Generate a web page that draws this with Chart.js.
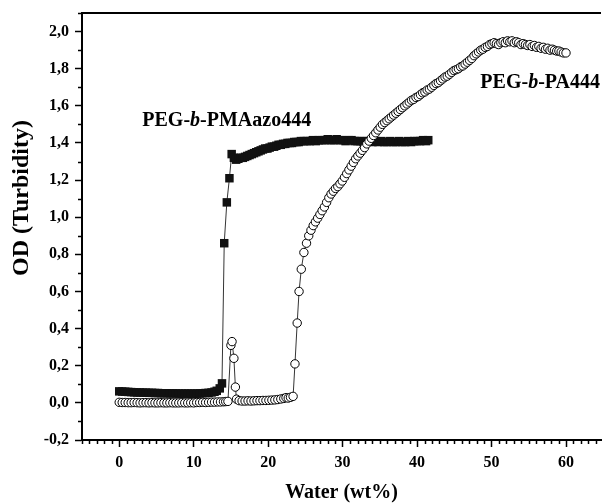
<!DOCTYPE html>
<html>
<head>
<meta charset="utf-8">
<script src="https://cdn.jsdelivr.net/npm/chart.js@4.4.1/dist/chart.umd.min.js"></script>
<style>
  html, body { margin: 0; padding: 0; background: #fff; overflow: hidden; }
  #wrap { width: 607px; height: 503px; position: relative; }
</style>
</head>
<body>
<div id="wrap"><canvas id="c" width="607" height="503"></canvas></div>
<script>
// ---- Data ----
const xTickValues = [0, 10, 20, 30, 40, 50, 60];
const yTickValues = [-0.2, 0, 0.2, 0.4, 0.6, 0.8, 1.0, 1.2, 1.4, 1.6, 1.8, 2.0];
const xTitle = 'Water (wt%)';
const yTitle = 'OD (Turbidity)';
const seriesNames = ['PEG-b-PA444', 'PEG-b-PMAazo444'];

// PEG-b-PA444 (open circles): [water wt%, OD]
const pa444Points = [
  [0,0.003],[0.4,0.002],[0.8,0.002],[1.2,0.001],[1.6,0.001],[2.0,0.002],[2.4,0.001],[2.8,0.0],[3.2,0.001],[3.6,0.001],
  [4.0,0.0],[4.4,0.001],[4.8,0.0],[5.2,0.0],[5.6,0.001],[6.0,0.0],[6.4,0.0],[6.8,0.001],[7.2,0.0],[7.6,0.0],
  [8.0,0.0],[8.4,0.001],[8.8,0.0],[9.2,0.0],[9.6,0.001],[10.0,0.0],[10.4,0.002],[10.8,0.002],[11.2,0.003],[11.6,0.002],
  [12.0,0.003],[12.4,0.004],[12.8,0.004],[13.2,0.005],[13.6,0.005],[14.0,0.006],[14.3,0.007],[14.6,0.008],
  [15.0,0.31],[15.15,0.33],[15.4,0.24],[15.6,0.085],[15.75,0.02],
  [16.1,0.012],[16.5,0.01],[16.9,0.01],[17.3,0.011],[17.7,0.01],[18.1,0.011],[18.5,0.012],[18.9,0.012],[19.3,0.013],[19.7,0.013],
  [20.1,0.014],[20.5,0.015],[20.9,0.016],[21.3,0.018],[21.7,0.021],[22.1,0.024],[22.4,0.028],[22.7,0.026],[23.0,0.03],[23.35,0.035],
  [23.6,0.21],[23.9,0.43],[24.15,0.60],[24.45,0.72],[24.8,0.81],[25.15,0.86],[25.45,0.90],[25.75,0.93],[26.05,0.955],[26.35,0.975],
  [26.65,0.995],[26.95,1.015],[27.25,1.035],[27.55,1.055],[27.85,1.08],[28.15,1.105],[28.45,1.125],[28.75,1.14],[29.05,1.155],[29.35,1.165],
  [29.65,1.18],[29.95,1.195],[30.25,1.215],[30.55,1.235],[30.85,1.255],[31.15,1.275],[31.45,1.295],[31.75,1.315],[32.05,1.33],[32.35,1.345],
  [32.65,1.36],[32.95,1.375],[33.25,1.395],[33.55,1.41],[33.85,1.425],[34.15,1.44],[34.45,1.455],[34.75,1.47],[35.05,1.485],[35.35,1.50],
  [35.65,1.51],[35.95,1.52],[36.25,1.53],[36.55,1.54],[36.85,1.55],[37.15,1.56],[37.45,1.57],[37.75,1.58],[38.05,1.59],[38.35,1.60],
  [38.65,1.61],[38.95,1.62],[39.25,1.63],[39.55,1.635],[39.85,1.645],[40.15,1.65],[40.45,1.66],[40.75,1.67],[41.05,1.675],[41.35,1.685],
  [41.65,1.69],[41.95,1.70],[42.25,1.71],[42.55,1.72],[42.85,1.725],[43.15,1.735],[43.45,1.745],[43.75,1.755],[44.05,1.76],[44.35,1.77],
  [44.65,1.78],[44.95,1.79],[45.25,1.795],[45.55,1.80],[45.85,1.81],[46.15,1.815],[46.45,1.825],[46.75,1.835],[47.05,1.845],[47.35,1.855],
  [47.65,1.87],[47.95,1.88],[48.25,1.89],[48.55,1.90],[48.85,1.905],[49.15,1.915],[49.45,1.92],[49.75,1.93],[50.05,1.935],[50.35,1.94],
  [50.65,1.935],[50.95,1.93],[51.25,1.94],[51.55,1.945],[51.85,1.94],[52.15,1.95],[52.45,1.945],[52.75,1.95],[53.05,1.94],[53.35,1.945],
  [53.65,1.94],[53.95,1.93],[54.25,1.935],[54.55,1.93],[54.85,1.925],[55.15,1.93],[55.45,1.92],[55.75,1.925],[56.05,1.915],[56.35,1.92],
  [56.65,1.91],[56.95,1.915],[57.25,1.905],[57.55,1.91],[57.85,1.90],[58.15,1.905],[58.45,1.90],[58.75,1.895],[59.05,1.895],[59.35,1.89],
  [59.65,1.885],[60.0,1.885]
];

// PEG-b-PMAazo444 (filled squares): [water wt%, OD]
const pmaPoints = [
  [0,0.062],[0.4,0.061],[0.8,0.060],[1.2,0.059],[1.6,0.058],[2.0,0.057],[2.4,0.056],[2.8,0.056],[3.2,0.055],[3.6,0.055],
  [4.0,0.054],[4.4,0.054],[4.8,0.053],[5.2,0.053],[5.6,0.052],[6.0,0.052],[6.4,0.052],[6.8,0.051],[7.2,0.051],[7.6,0.051],
  [8.0,0.050],[8.4,0.050],[8.8,0.050],[9.2,0.050],[9.6,0.050],[10.0,0.050],[10.4,0.050],[10.8,0.051],[11.2,0.052],[11.6,0.053],
  [12.0,0.054],[12.4,0.056],[12.8,0.060],[13.1,0.065],[13.5,0.078],[13.8,0.105],
  [14.1,0.86],[14.45,1.08],[14.8,1.21],[15.1,1.34],
  [15.4,1.32],[15.7,1.31],[16.0,1.315],[16.3,1.32],[16.6,1.32],[16.9,1.325],[17.2,1.33],[17.5,1.335],[17.8,1.34],[18.1,1.345],
  [18.4,1.35],[18.7,1.355],[19.0,1.36],[19.3,1.365],[19.6,1.37],[19.9,1.37],[20.2,1.375],[20.5,1.38],[20.8,1.38],[21.1,1.385],
  [21.4,1.39],[21.7,1.39],[22.0,1.395],[22.3,1.395],[22.6,1.40],[22.9,1.40],[23.2,1.40],[23.5,1.405],[23.8,1.405],[24.1,1.405],
  [24.4,1.41],[24.8,1.41],[25.2,1.41],[25.6,1.41],[26.0,1.415],[26.4,1.41],[26.8,1.415],[27.2,1.415],[27.6,1.415],[28.0,1.42],
  [28.4,1.415],[28.8,1.415],[29.2,1.42],[29.6,1.415],[30.0,1.415],[30.4,1.41],[30.8,1.415],[31.2,1.415],[31.6,1.41],[32.0,1.41],
  [32.4,1.41],[32.8,1.405],[33.2,1.41],[33.6,1.41],[34.0,1.405],[34.4,1.41],[34.8,1.405],[35.2,1.41],[35.6,1.405],[36.0,1.405],
  [36.4,1.41],[36.8,1.405],[37.2,1.405],[37.6,1.41],[38.0,1.405],[38.4,1.405],[38.8,1.41],[39.2,1.405],[39.6,1.41],[40.0,1.41],
  [40.4,1.41],[40.8,1.415],[41.2,1.41],[41.5,1.415]
];

// In-plot series labels: [prefix, italic part, suffix], anchored (left, baseline) in data units
const labelParts = [['PEG-', 'b', '-PA444'], ['PEG-', 'b', '-PMAazo444']];
const labelAnchorX = [48.5, 3.1];
const labelAnchorY = [1.694, 1.489];

// ---- Rendering ----
const FONT = "'Liberation Serif', 'Times New Roman', serif";
const fmt = v => (Math.round(v * 10) / 10).toFixed(1).replace('.', ',');

const decorPlugin = {
  id: 'decor',
  afterDraw(chart) {
    const ctx = chart.ctx;
    const xs = chart.scales.x, ys = chart.scales.y;
    const ca = chart.chartArea;
    ctx.save();
    ctx.strokeStyle = '#000';
    // top frame line
    ctx.lineWidth = 2;
    ctx.beginPath();
    ctx.moveTo(ca.left - 1, ca.top);
    ctx.lineTo(ca.right, ca.top);
    ctx.stroke();
    // minor ticks
    ctx.lineWidth = 1.5;
    ctx.beginPath();
    for (let v = Math.ceil(xs.min); v <= xs.max; v++) {
      if (v % 10 === 0) continue;
      const px = Math.round(xs.getPixelForValue(v)) + 0.5;
      ctx.moveTo(px, ca.bottom);
      ctx.lineTo(px, ca.bottom + 4);
    }
    for (let i = Math.ceil(ys.min * 10); i <= Math.floor(ys.max * 10); i++) {
      if (i % 2 === 0) continue;
      const py = Math.round(ys.getPixelForValue(i / 10)) + 0.5;
      ctx.moveTo(ca.left, py);
      ctx.lineTo(ca.left - 4, py);
    }
    ctx.stroke();
    // y axis title (rotated), placed as in the reference
    ctx.fillStyle = '#000';
    ctx.save();
    ctx.translate(22, 198);
    ctx.rotate(-Math.PI / 2);
    ctx.textAlign = 'center';
    ctx.textBaseline = 'middle';
    ctx.font = 'bold 24px ' + FONT;
    ctx.fillText(yTitle, 0, 0);
    ctx.restore();
    // series labels
    ctx.textBaseline = 'alphabetic';
    ctx.textAlign = 'left';
    labelParts.forEach((parts, i) => {
      let x = xs.getPixelForValue(labelAnchorX[i]);
      const y = ys.getPixelForValue(labelAnchorY[i]);
      parts.forEach((p, j) => {
        ctx.font = (j === 1 ? 'italic bold 20px ' : 'bold 20px ') + FONT;
        ctx.fillText(p, x, y);
        x += ctx.measureText(p).width;
      });
    });
    ctx.restore();
  }
};

new Chart(document.getElementById('c'), {
  type: 'scatter',
  data: {
    datasets: [
      {
        label: seriesNames[0],
        data: pa444Points.map(p => ({x: p[0], y: p[1]})),
        showLine: true,
        borderColor: '#000',
        borderWidth: 0.8,
        pointStyle: 'circle',
        pointRadius: 4.2,
        pointBackgroundColor: '#fff',
        pointBorderColor: '#000',
        pointBorderWidth: 1
      },
      {
        label: seriesNames[1],
        data: pmaPoints.map(p => ({x: p[0], y: p[1]})),
        showLine: true,
        borderColor: '#000',
        borderWidth: 0.8,
        pointStyle: 'rect',
        pointRadius: 6,
        pointBackgroundColor: '#111',
        pointBorderColor: '#111',
        pointBorderWidth: 0
      }
    ]
  },
  options: {
    responsive: false,
    animation: false,
    devicePixelRatio: 1,
    layout: { padding: { top: 13, right: 0, left: 0, bottom: 0 } },
    plugins: { legend: { display: false }, tooltip: { enabled: false } },
    scales: {
      x: {
        type: 'linear',
        min: -5,
        max: 64.7,
        afterBuildTicks: s => { s.ticks = xTickValues.map(v => ({value: v})); },
        afterFit: s => { s.height = 63; s.paddingLeft = 0; s.paddingRight = 0; },
        border: { display: true, color: '#000', width: 2 },
        grid: { display: true, drawOnChartArea: false, drawTicks: true, tickLength: 7, tickWidth: 1.5, tickColor: '#000' },
        ticks: {
          color: '#000',
          padding: 6,
          maxRotation: 0,
          autoSkip: false,
          font: { family: FONT, size: 16, weight: 'bold' },
          callback: v => String(v)
        },
        title: {
          display: true,
          text: xTitle,
          color: '#000',
          padding: { top: 0, bottom: 0 },
          font: { family: FONT, size: 20, weight: 'bold', lineHeight: 1.0 }
        }
      },
      y: {
        type: 'linear',
        min: -0.2,
        max: 2.1,
        afterBuildTicks: s => { s.ticks = yTickValues.map(v => ({value: v})); },
        afterFit: s => { s.width = 82; s.paddingTop = 0; s.paddingBottom = 0; },
        border: { display: true, color: '#000', width: 2 },
        grid: { display: true, drawOnChartArea: false, drawTicks: true, tickLength: 7, tickWidth: 1.5, tickColor: '#000' },
        ticks: {
          color: '#000',
          padding: 6,
          autoSkip: false,
          font: { family: FONT, size: 16, weight: 'bold' },
          callback: v => fmt(v)
        },
        title: { display: false, text: yTitle }
      }
    }
  },
  plugins: [decorPlugin]
});
</script>
</body>
</html>
